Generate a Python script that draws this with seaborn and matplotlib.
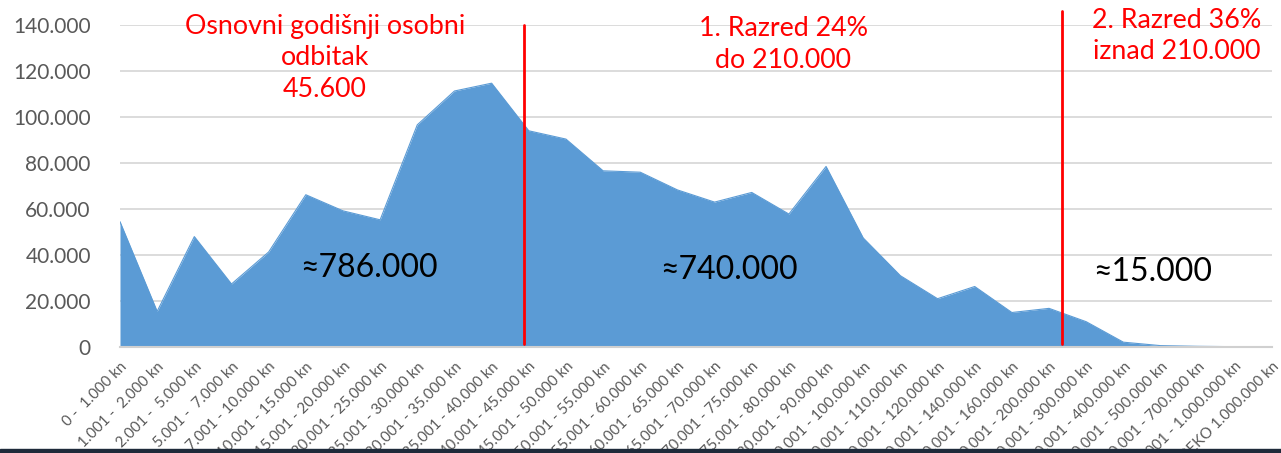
import numpy as np
import pandas as pd
import seaborn as sns
import matplotlib.pyplot as plt
from matplotlib.patches import Rectangle
from matplotlib.ticker import FuncFormatter

# income brackets (kn) and number of taxpayers in each
categories = [
    "0 -  1.000 kn", "1.001 -  2.000 kn", "2.001 -  5.000 kn", "5.001 -  7.000 kn",
    "7.001 - 10.000 kn", "10.001 - 15.000 kn", "15.001 - 20.000 kn", "20.001 - 25.000 kn",
    "25.001 - 30.000 kn", "30.001 - 35.000 kn", "35.001 - 40.000 kn", "40.001 - 45.000 kn",
    "45.001 - 50.000 kn", "50.001 - 55.000 kn", "55.001 - 60.000 kn", "60.001 - 65.000 kn",
    "65.001 - 70.000 kn", "70.001 - 75.000 kn", "75.001 - 80.000 kn", "80.001 - 90.000 kn",
    "90.001 - 100.000 kn", "100.001 - 110.000 kn", "110.001 - 120.000 kn", "120.001 - 140.000 kn",
    "140.001 - 160.000 kn", "160.001 - 200.000 kn", "200.001 - 300.000 kn", "300.001 - 400.000 kn",
    "400.001 - 500.000 kn", "500.001 - 700.000 kn", "700.001 - 1.000.000 kn", "PREKO 1.000.000 kn",
]
taxpayers = [
    54500, 15500, 48000, 27400, 41300, 66200, 59200, 55300,
    96600, 111300, 114700, 94000, 90400, 76600, 76000, 68300,
    63000, 67200, 57800, 78500, 47400, 31000, 21000, 26300,
    15000, 16800, 11000, 2100, 600, 300, 150, 60,
]

# tax thresholds, in category units along the x axis
threshold_positions = [10.88, 25.34]
zone_totals = ["≈786.000", "≈740.000", "≈15.000"]

df = pd.DataFrame({"bracket": categories, "count": taxpayers})
df["pos"] = np.arange(len(df))

sns.set_theme(style="white")
plt.rcParams["font.family"] = ["Lato", "DejaVu Sans"]

fig = plt.figure(figsize=(12.81, 4.53), dpi=100)
ax = fig.add_axes([120 / 1281, 106 / 453, 1152 / 1281, 322 / 453])

blue = "#5B9BD5"
ax.fill_between(df["pos"], df["count"], color=blue, lw=0, zorder=2)
sns.lineplot(data=df, x="pos", y="count", color=blue, lw=0.8, ax=ax, zorder=2)

ax.set_xlim(0, len(df) - 1)
ax.set_ylim(0, 140000)
ax.set_yticks(np.arange(0, 140001, 20000))
ax.yaxis.set_major_formatter(FuncFormatter(lambda v, p: f"{int(v):,}".replace(",", ".")))
ax.grid(axis="y", color="#D9D9D9", lw=1.3, zorder=0)
ax.set_axisbelow(True)
for s in ["top", "right", "left"]:
    ax.spines[s].set_visible(False)
ax.spines["bottom"].set_color("#D0D0D0")
ax.spines["bottom"].set_linewidth(1.5)

ax.set_xticks(df["pos"])
ax.set_xticklabels(df["bracket"], rotation=45, ha="right", va="top",
                   rotation_mode="anchor", fontsize=10.8, color="#595959")
ax.tick_params(axis="x", length=0, pad=9)
ax.tick_params(axis="y", length=0, pad=21, labelsize=15, labelcolor="#595959")
ax.set_xlabel("")
ax.set_ylabel("")

# threshold lines
ax.plot([threshold_positions[0]] * 2, [1200, 140000], color="red", lw=2, zorder=3, clip_on=False)
ax.plot([threshold_positions[1]] * 2, [1500, 146000], color="red", lw=2, zorder=3, clip_on=False)

red_kw = dict(color="red", fontsize=19.3, ha="center", va="center", linespacing=1.32)
ax.text(5.52, 125700, "Osnovni godišnji osobni\nodbitak\n45.600", **red_kw)
ax.text(17.85, 131500, "1. Razred 24%\ndo 210.000", **red_kw)
ax.text(28.44, 135200, "2. Razred 36%\niznad 210.000", **red_kw)

ax.text(6.7, 34500, zone_totals[0], fontsize=23, ha="center", va="center", color="black")
ax.text(16.4, 33500, zone_totals[1], fontsize=23, ha="center", va="center", color="black")
ax.text(27.8, 32500, zone_totals[2], fontsize=23, ha="center", va="center", color="black")

# dark slide strip at the bottom edge
fig.patches.append(Rectangle((0, 0), 1, 4.5 / 453, transform=fig.transFigure,
                             color="#1E2A3A", zorder=0))

fig.savefig("out.png", dpi=100)
